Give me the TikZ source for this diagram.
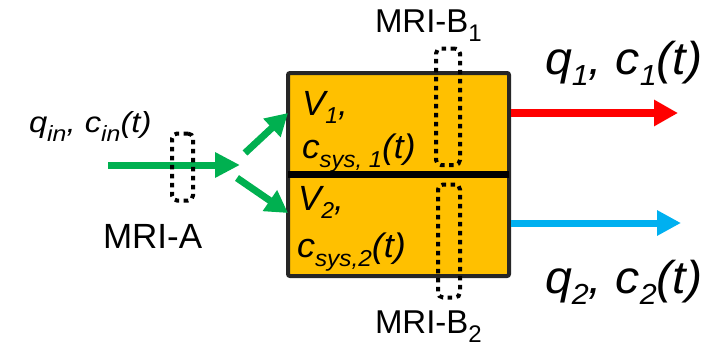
\documentclass[tikz,border=0pt]{standalone}
\usepackage{fontspec}
\setmainfont{Liberation Sans}
\usetikzlibrary{arrows.meta}
\definecolor{ppgreen}{HTML}{00B050}
\definecolor{ppred}{HTML}{FF0000}
\definecolor{ppblue}{HTML}{00B0F0}
\definecolor{pporange}{HTML}{FFC000}
\definecolor{ppgray}{HTML}{262626}
\newcommand{\lowtxt}[3]{\raisebox{-#1pt}{\fontsize{#2pt}{#2pt}\selectfont #3}}
\begin{document}
\begin{tikzpicture}[x=1pt,y=-1pt,
  txt/.style={inner sep=0pt, outer sep=0pt, anchor=base west},
  mribox/.style={draw=black, line width=4pt, dash pattern=on 4.5pt off 4.5pt, rounded corners=5pt, inner sep=0pt, outer sep=0pt},
  greenarrow/.style={draw=ppgreen, line width=7pt, -{Triangle[length=25pt,width=24pt]}},
  tank/.style={draw=ppgray, line width=4pt, fill=pporange, rounded corners=2pt, inner sep=0pt, outer sep=0pt}
]
\useasboundingbox (0,0) rectangle (717,348);

% tank
\node[tank, minimum width=221pt, minimum height=203pt] (box) at (398.5,174.5) {};
\draw[black, line width=7pt] (box.west) -- (box.east);

% outflow arrows
\coordinate (r0) at (511,113);
\coordinate (r1) at (678,113);
\coordinate (b0) at (511,223);
\coordinate (b1) at (681,223);
\draw[ppred, line width=8pt, -{Triangle[length=24pt,width=25pt]}] (r0) -- (r1);
\draw[ppblue, line width=7pt, -{Triangle[length=24pt,width=24pt]}] (b0) -- (b1);

% inflow arrows
\coordinate (g0) at (108,165);
\coordinate (g1) at (240,165);
\coordinate (u0) at (245,153);
\coordinate (u1) at (288,113);
\coordinate (l0) at (237,178);
\coordinate (l1) at (288,213);
\draw[greenarrow] (g0) -- (g1);
\draw[greenarrow, -{Triangle[length=22pt,width=24pt]}] (u0) -- (u1);
\draw[greenarrow, -{Triangle[length=22pt,width=24pt]}] (l0) -- (l1);

% MRI measurement regions
\node[mribox, minimum width=21pt, minimum height=67pt] (mria) at (182.5,167) {};
\node[mribox, minimum width=24pt, minimum height=116.5pt] (mrib1) at (448,106.75) {};
\node[mribox, minimum width=22pt, minimum height=113pt] (mrib2) at (449,241) {};

% labels
\node[txt] (lmria) at (103,248) {\fontsize{35}{38}\selectfont MRI-A};
\node[txt] (lmrib1) at (375,32) {\fontsize{33}{35}\selectfont MRI-B\lowtxt{9}{24}{1}};
\node[txt] (lmrib2) at (375,333) {\fontsize{33}{35}\selectfont MRI-B\lowtxt{9}{24}{2}};

\node[txt, xscale=1.13] (lqin) at (29,132) {\fontsize{29}{31}\selectfont\itshape q\lowtxt{9}{22}{in}, c\lowtxt{9}{22}{in}(t)};

\node[txt] (lv1) at (302,115) {\fontsize{35}{37}\selectfont\itshape V\lowtxt{8}{23}{1},};
\node[txt, xscale=1.04] (lc1) at (302,158) {\fontsize{34}{36}\selectfont\itshape c\lowtxt{9}{23}{sys, 1}(t)};
\node[txt] (lv2) at (298,210) {\fontsize{35}{37}\selectfont\itshape V\lowtxt{8}{23}{2},};
\node[txt, xscale=1.06] (lc2) at (297,257) {\fontsize{34}{36}\selectfont\itshape c\lowtxt{9}{23}{sys,2}(t)};

\node[txt, xscale=1.05] (lq1) at (545,74) {\fontsize{46}{48}\selectfont\itshape q\lowtxt{11}{29}{1}, c\lowtxt{11}{29}{1}(t)};
\node[txt, xscale=1.05] (lq2) at (545,293) {\fontsize{46}{48}\selectfont\itshape q\lowtxt{11}{29}{2}, c\lowtxt{11}{29}{2}(t)};
\end{tikzpicture}
\end{document}
